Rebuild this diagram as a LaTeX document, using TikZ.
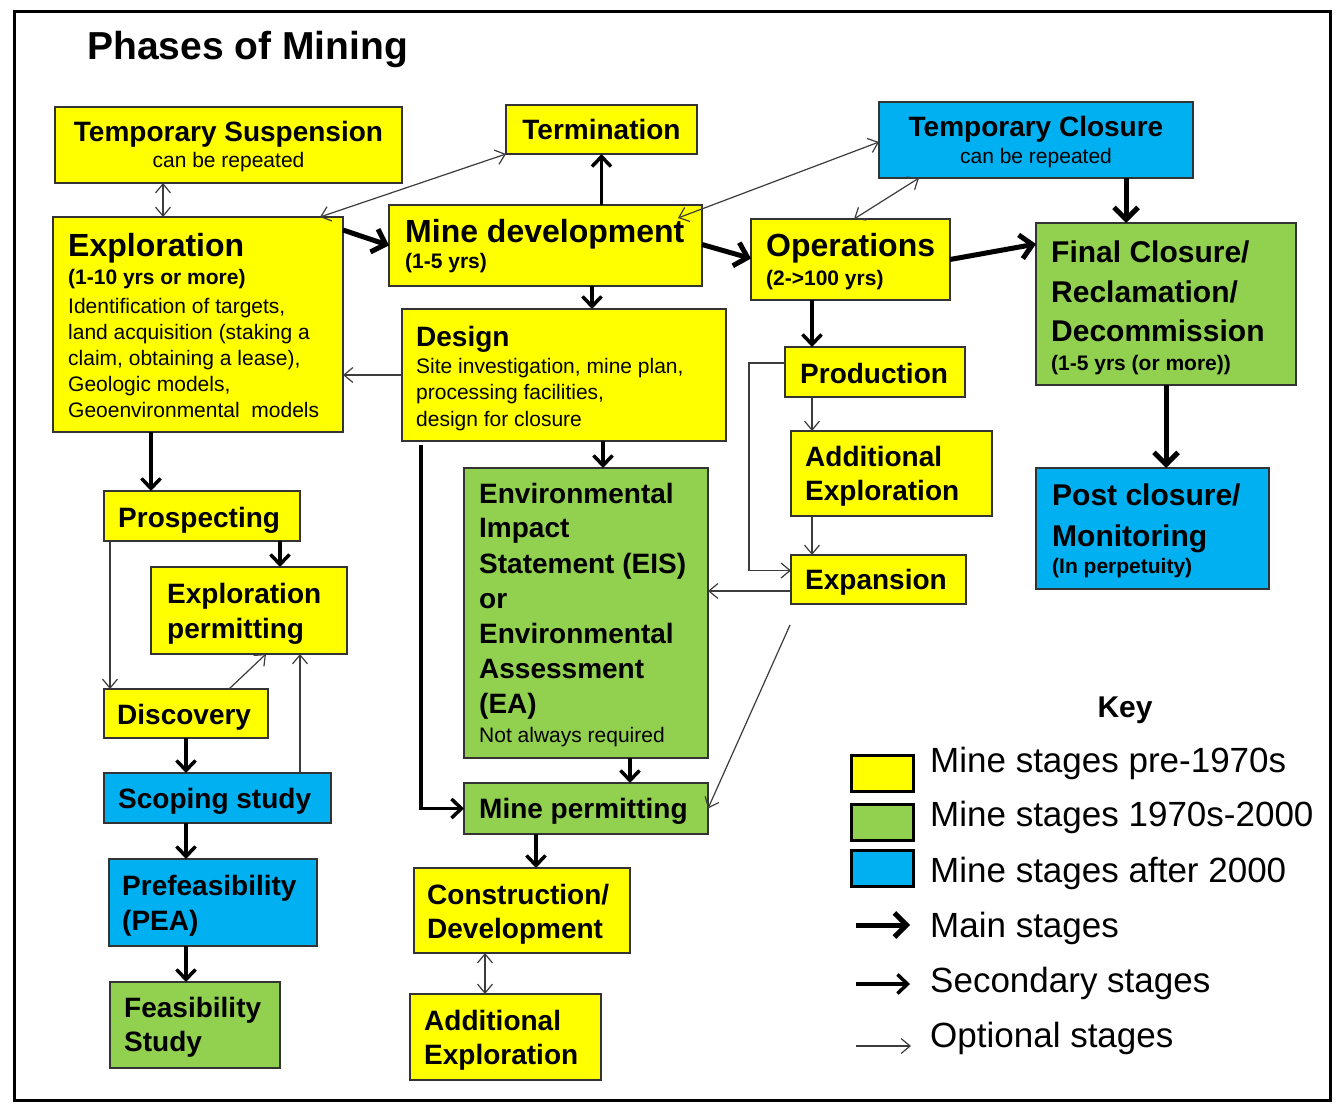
\documentclass[tikz,border=0pt]{standalone}
\usepackage{fontspec}
\setmainfont{Liberation Sans}
\usetikzlibrary{arrows.meta,calc}
\definecolor{yel}{HTML}{FFFF00}
\definecolor{grn}{HTML}{92D050}
\definecolor{blu}{HTML}{00B0F0}
\definecolor{boxline}{HTML}{333333}
\definecolor{thinc}{HTML}{3C3C3C}
\newcommand\ftH{\bfseries\fontsize{39}{45}\selectfont}
\newcommand\ftT{\bfseries\fontsize{32}{38}\selectfont}
\newcommand\ftF{\bfseries\fontsize{30}{36}\selectfont}
\newcommand\ftM{\bfseries\fontsize{28}{33}\selectfont}
\newcommand\ftS{\bfseries\fontsize{21}{25}\selectfont}
\newcommand\ftB{\fontsize{21}{25}\selectfont}
\newcommand\ftK{\fontsize{35}{41}\selectfont}
\newcommand\ftKB{\bfseries\fontsize{30}{36}\selectfont}
\newcommand\mkbox[6]{%
 \pgfmathsetmacro\bxcx{(#3+#5)/2}%
 \pgfmathsetmacro\bxcy{(#4+#6)/2}%
 \pgfmathsetmacro\bxw{#5-#3}%
 \pgfmathsetmacro\bxh{#6-#4}%
 \node[box,fill=#2,minimum width=\bxw pt,minimum height=\bxh pt] (#1) at (\bxcx,\bxcy) {};}
\newcommand\mytx[5]{\node[anchor=base west,inner sep=0pt,font=#4] (#1) at (#2,#3) {#5};}
\newcommand\mytc[5]{\node[anchor=base,inner sep=0pt,font=#4] (#1) at (#2,#3) {#5};}
\tikzset{
 box/.style={draw=boxline,line width=1.4pt,inner sep=0pt,outer sep=0pt},
 keybox/.style={draw=black,line width=3pt,inner sep=0pt,outer sep=0pt,minimum width=62pt,minimum height=36pt},
 mainarr/.style={line width=5pt,-{Straight Barb[length=12pt,width=24pt]}},
 secarr/.style={line width=3.5pt,-{Straight Barb[length=10pt,width=19pt]}},
 optarr/.style={line width=1.2pt,draw=thinc,-{Straight Barb[length=9pt,width=15pt]}},
 optboth/.style={line width=1.2pt,draw=thinc,{Straight Barb[length=9pt,width=15pt]}-{Straight Barb[length=9pt,width=15pt]}},
}
\begin{document}
\begin{tikzpicture}[x=1pt,y=-1pt]
\fill[white] (0,0) rectangle (1337,1115);
\path[use as bounding box] (0,0) rectangle (1337,1115);
\draw[line width=3pt] (14,12) rectangle (1330,1100);

\mytx{head}{87}{60}{\ftH}{Phases of Mining}

% boxes
\mkbox{ts}{yel}{55}{107}{402}{183}
\mkbox{term}{yel}{506}{105}{697}{154}
\mkbox{tcl}{blu}{879}{102}{1193}{178}
\mkbox{expl}{yel}{53}{217}{343}{432}
\mkbox{mdev}{yel}{389}{205}{702}{286}
\mkbox{ops}{yel}{751}{219}{950}{300}
\mkbox{fin}{grn}{1036}{223}{1296}{385}
\mkbox{des}{yel}{402}{309}{726}{441}
\mkbox{prod}{yel}{785}{347}{965}{397}
\mkbox{adx}{yel}{791}{431}{992}{516}
\mkbox{expn}{yel}{791}{555}{966}{604}
\mkbox{post}{blu}{1036}{468}{1269}{589}
\mkbox{prosp}{yel}{104}{491}{300}{541}
\mkbox{eperm}{yel}{151}{567}{347}{654}
\mkbox{disc}{yel}{104}{689}{268}{738}
\mkbox{scop}{blu}{104}{773}{331}{823}
\mkbox{pref}{blu}{109}{859}{317}{946}
\mkbox{feas}{grn}{110}{982}{280}{1068}
\mkbox{eis}{grn}{464}{468}{708}{758}
\mkbox{mperm}{grn}{464}{783}{708}{834}
\mkbox{cons}{yel}{414}{868}{630}{953}
\mkbox{adxb}{yel}{410}{994}{601}{1080}

% texts
\mytc{tsT}{228.5}{142}{\ftM}{Temporary Suspension}
\mytc{tsS}{228.5}{168}{\ftB}{can be repeated}
\mytc{termT}{601.5}{140}{\ftM}{Termination}
\mytc{tclT}{1036}{137}{\ftM}{Temporary Closure}
\mytc{tclS}{1036}{164}{\ftB}{can be repeated}
\mytx{explT}{68}{256}{\ftT}{Exploration}
\mytx{explS}{68}{284}{\ftS}{(1-10 yrs or more)}
\mytx{explB1}{68}{313}{\ftB}{Identification of targets,}
\mytx{explB2}{68}{339}{\ftB}{land acquisition (staking a}
\mytx{explB3}{68}{365}{\ftB}{claim, obtaining a lease),}
\mytx{explB4}{68}{391}{\ftB}{Geologic models,}
\mytx{explB5}{68}{417}{\ftB}{Geoenvironmental\ \ models}
\mytx{mdevT}{405}{242}{\ftT}{Mine development}
\mytx{mdevS}{405}{268}{\ftS}{(1-5 yrs)}
\mytx{desT}{416}{346}{\ftM}{Design}
\mytx{desB1}{416}{373}{\ftB}{Site investigation, mine plan,}
\mytx{desB2}{416}{399}{\ftB}{processing facilities,}
\mytx{desB3}{416}{426}{\ftB}{design for closure}
\mytx{opsT}{766}{256}{\ftT}{Operations}
\mytx{opsS}{766}{285}{\ftS}{(2->100 yrs)}
\mytx{finT1}{1051}{262}{\ftF}{Final Closure/}
\mytx{finT2}{1051}{302}{\ftF}{Reclamation/}
\mytx{finT3}{1051}{341}{\ftF}{Decommission}
\mytx{finS}{1051}{370}{\ftS}{(1-5 yrs (or more))}
\mytx{prodT}{800}{383}{\ftM}{Production}
\mytx{adxT1}{805}{466}{\ftM}{Additional}
\mytx{adxT2}{805}{500}{\ftM}{Exploration}
\mytx{expnT}{805}{589}{\ftM}{Expansion}
\mytx{postT1}{1052}{505}{\ftF}{Post closure/}
\mytx{postT2}{1052}{546}{\ftF}{Monitoring}
\mytx{postS}{1052}{573}{\ftS}{(In perpetuity)}
\mytx{prospT}{118}{527}{\ftM}{Prospecting}
\mytx{epermT1}{167}{603}{\ftM}{Exploration}
\mytx{epermT2}{167}{638}{\ftM}{permitting}
\mytx{discT}{117}{724}{\ftM}{Discovery}
\mytx{eisT1}{479}{503}{\ftM}{Environmental}
\mytx{eisT2}{479}{537}{\ftM}{Impact}
\mytx{eisT3}{479}{573}{\ftM}{Statement (EIS)}
\mytx{eisT4}{479}{608}{\ftM}{or}
\mytx{eisT5}{479}{643}{\ftM}{Environmental}
\mytx{eisT6}{479}{678}{\ftM}{Assessment}
\mytx{eisT7}{479}{713}{\ftM}{(EA)}
\mytx{eisB}{479}{742}{\ftB}{Not always required}
\mytx{mpermT}{479}{818}{\ftM}{Mine\ permitting}
\mytx{scopT}{118}{808}{\ftM}{Scoping study}
\mytx{prefT1}{122}{895}{\ftM}{Prefeasibility}
\mytx{prefT2}{122}{930}{\ftM}{(PEA)}
\mytx{feasT1}{124}{1017}{\ftM}{Feasibility}
\mytx{feasT2}{124}{1051}{\ftM}{Study}
\mytx{consT1}{427}{904}{\ftM}{Construction/}
\mytx{consT2}{427}{938}{\ftM}{Development}
\mytx{adxbT1}{424}{1030}{\ftM}{Additional}
\mytx{adxbT2}{424}{1064}{\ftM}{Exploration}

% main / secondary connectors
\draw[mainarr] ($(expl.north east)+(0,13)$) -- (mdev.west);
\draw[mainarr] ($(mdev.east)+(0,-1)$) -- ($(ops.west)+(0,-1)$);
\draw[mainarr] (ops.east) -- ($(fin.west)+(0,-60)$);
\draw[secarr] (mdev.north -| term.south) -- (term.south);
\draw[secarr] ($(mdev.south)+(46.5,0)$) -- ($(des.north)+(28,0)$);
\draw[secarr] ($(des.south)+(39,0)$) -- ($(eis.north)+(17,0)$);
\draw[secarr] ($(ops.south)+(-38.5,0)$) -- ($(prod.north)+(-63,0)$);
\draw[mainarr] ($(tcl.south)+(90,0)$) -- ($(fin.north)+(-40,0)$);
\draw[mainarr] (fin.south) -- ($(post.north)+(13.5,0)$);
\draw[secarr] ($(expl.south)+(-47,0)$) -- ($(prosp.north)+(-51,0)$);
\draw[secarr] ($(prosp.south)+(78,0)$) -- ($(eperm.north)+(31,0)$);
\draw[secarr] (disc.south) -- ($(scop.north)+(-31.5,0)$);
\draw[secarr] ($(scop.south)+(-31.5,0)$) -- ($(pref.north)+(-27,0)$);
\draw[secarr] ($(pref.south)+(-27,0)$) -- ($(feas.north)+(-9,0)$);
\draw[secarr] ($(eis.south)+(44,0)$) -- ($(mperm.north)+(44,0)$);
\draw[secarr] ($(mperm.south)+(-50,0)$) -- ($(cons.north)+(14,0)$);
\draw[secarr] ($(des.south)+(-143,4)$) |- (mperm.west);

% optional connectors
\draw[optboth] ($(ts.south)+(-65.5,0)$) -- ($(expl.north)+(-35,0)$);
\draw[optboth] ($(expl.north east)+(-23,0)$) -- (term.south west);
\draw[optboth] ($(mdev.north east)+(-24,13)$) -- ($(tcl.west)+(0,2)$);
\draw[optboth] ($(ops.north)+(3.5,0)$) -- ($(tcl.south west)+(40,0)$);
\draw[optarr] (des.west) -- (des.west -| expl.east);
\draw[optarr] ($(prod.west)+(0,-9)$) -- ++(-36,0) |- ($(expn.west)+(0,-9)$);
\draw[optarr] ($(prod.south)+(-63,0)$) -- ($(adx.north)+(-79.5,0)$);
\draw[optarr] ($(adx.south)+(-79.5,0)$) -- ($(expn.north)+(-66.5,0)$);
\draw[optarr] ($(expn.west)+(0,11.5)$) -- ($(eis.east)+(0,-22)$);
\coordinate (dstart) at ($(expn.south west)+(-1,21)$);
\draw[optarr] (dstart) -- (mperm.east);
\draw[optboth] ($(cons.south)+(-37,0)$) -- ($(adxb.north)+(-20.5,0)$);
\draw[optarr] ($(prosp.south)+(-92,0)$) -- ($(disc.north)+(-76,0)$);
\draw[optarr] ($(disc.north)+(43,0)$) -- ($(eperm.south)+(17,0)$);
\draw[optarr] ($(scop.north)+(82.5,0)$) -- ($(eperm.south)+(51,0)$);

% key
\mytc{keyT}{1125}{717}{\ftKB}{Key}
\node[keybox,fill=yel] (kY) at (882,773) {};
\node[keybox,fill=grn] (kG) at (882,822) {};
\node[keybox,fill=blu] (kB) at (882,868) {};
\mytx{kt1}{930}{772}{\ftK}{Mine stages pre-1970s}
\mytx{kt2}{930}{826}{\ftK}{Mine stages 1970s-2000}
\mytx{kt3}{930}{882}{\ftK}{Mine stages after 2000}
\mytx{kt4}{930}{937}{\ftK}{Main stages}
\mytx{kt5}{930}{992}{\ftK}{Secondary stages}
\mytx{kt6}{930}{1047}{\ftK}{Optional stages}
\coordinate (ka1) at (856,925);
\coordinate (ka2) at (910,925);
\coordinate (kb1) at (856,984);
\coordinate (kb2) at (910,984);
\coordinate (kc1) at (856,1046);
\coordinate (kc2) at (911,1046);
\draw[mainarr] (ka1) -- (ka2);
\draw[secarr] (kb1) -- (kb2);
\draw[optarr] (kc1) -- (kc2);
\end{tikzpicture}
\end{document}
